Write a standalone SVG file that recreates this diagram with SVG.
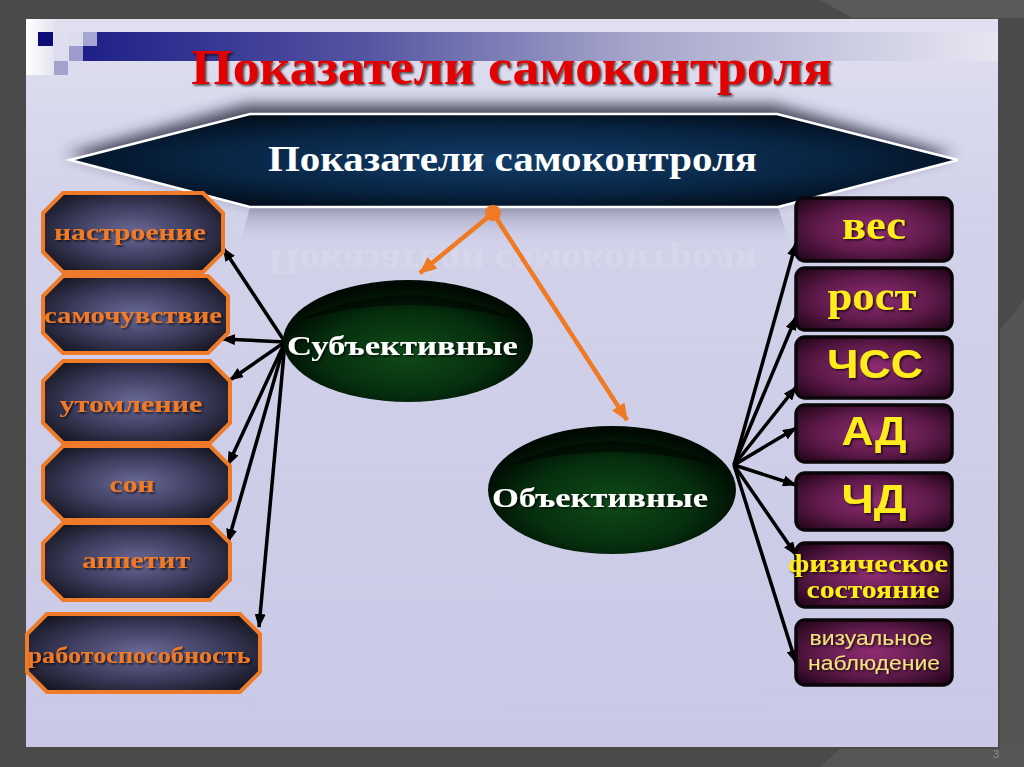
<svg xmlns="http://www.w3.org/2000/svg" width="1024" height="767" viewBox="0 0 1024 767">
<defs>
<style>
.oct{stroke:#ee7a2a;stroke-width:4;fill:url(#octG)}
.octT{font-family:"Liberation Serif","DejaVu Serif",serif;font-weight:bold;font-size:23px;fill:#f07a26;text-anchor:middle;filter:url(#tsh)}
.box{stroke:#0a0508;stroke-width:3.5;fill:url(#boxG)}
.serifY{font-family:"Liberation Serif","DejaVu Serif",serif;font-weight:bold;fill:#ffec1a;text-anchor:middle;filter:url(#tsh)}
.sansY{font-family:"Liberation Sans","DejaVu Sans",sans-serif;font-weight:bold;fill:#ffec1a;text-anchor:middle;filter:url(#tsh)}
.ell{fill:url(#ellG)}
.ellT{font-family:"Liberation Serif","DejaVu Serif",serif;font-weight:bold;font-size:28px;fill:#ffffff;filter:url(#tsh)}
.blk{stroke:#000;stroke-width:3.5;fill:none;marker-end:url(#ah)}
.org{stroke:#f07a24;stroke-width:4.5;fill:none;marker-end:url(#aho)}
</style>
<linearGradient id="slideG" x1="0" y1="0" x2="0" y2="1">
<stop offset="0" stop-color="#e0e0f0"/>
<stop offset="0.25" stop-color="#d2d2ea"/>
<stop offset="1" stop-color="#c9c9e6"/>
</linearGradient>
<linearGradient id="barG" x1="0" y1="0" x2="1" y2="0">
<stop offset="0" stop-color="#1f2088"/>
<stop offset="0.3" stop-color="#5253a0"/>
<stop offset="0.6" stop-color="#a5a5ca"/>
<stop offset="1" stop-color="#e6e6f2"/>
</linearGradient>
<linearGradient id="stripG" x1="0" y1="0" x2="1" y2="0">
<stop offset="0" stop-color="#ffffff"/>
<stop offset="1" stop-color="#e4e4f2"/>
</linearGradient>
<radialGradient id="banG" cx="0.5" cy="0.5" r="0.6">
<stop offset="0" stop-color="#123d68"/>
<stop offset="0.6" stop-color="#082442"/>
<stop offset="1" stop-color="#010914"/>
</radialGradient>
<linearGradient id="reflG" x1="0" y1="0" x2="0" y2="1">
<stop offset="0" stop-color="#6c6c88" stop-opacity="0.75"/>
<stop offset="1" stop-color="#c9c9e6" stop-opacity="0"/>
</linearGradient>
<radialGradient id="octG" cx="0.5" cy="0.5" r="0.62">
<stop offset="0" stop-color="#6a6a98"/>
<stop offset="0.55" stop-color="#3c3c5e"/>
<stop offset="1" stop-color="#15151f"/>
</radialGradient>
<radialGradient id="boxG" cx="0.5" cy="0.5" r="0.62">
<stop offset="0" stop-color="#8e2c72"/>
<stop offset="0.6" stop-color="#5e1a4a"/>
<stop offset="1" stop-color="#2c0820"/>
</radialGradient>
<radialGradient id="ellG" cx="0.5" cy="0.6" r="0.55">
<stop offset="0" stop-color="#0f4a1a"/>
<stop offset="0.6" stop-color="#06300e"/>
<stop offset="1" stop-color="#000a02"/>
</radialGradient>
<filter id="blur" x="-20%" y="-50%" width="140%" height="200%">
<feGaussianBlur stdDeviation="7"/>
</filter>
<filter id="tsh" x="-10%" y="-30%" width="120%" height="160%">
<feDropShadow dx="1.5" dy="1.5" stdDeviation="0.8" flood-color="#000" flood-opacity="0.75"/>
</filter>
<marker id="ah" viewBox="0 0 14 11" refX="13" refY="5.5" markerWidth="14" markerHeight="11" markerUnits="userSpaceOnUse" orient="auto">
<path d="M0,0 L14,5.5 L0,11 z" fill="#000"/>
</marker>
<marker id="aho" viewBox="0 0 16 14" refX="15" refY="7" markerWidth="18" markerHeight="15" markerUnits="userSpaceOnUse" orient="auto">
<path d="M0,0 L16,7 L0,14 z" fill="#f07a24"/>
</marker>
</defs>

<!-- frame -->
<rect x="0" y="0" width="1024" height="767" fill="#4a4a4a"/>
<polygon points="820,0 1024,0 1024,18 852,18" fill="#5a5a5a"/>
<polygon points="1000,330 1024,300 1024,767 1000,767" fill="#555555"/>
<polygon points="840,749 1024,749 1024,767 820,767" fill="#565656"/>

<!-- slide -->
<rect x="26" y="19" width="972" height="728" fill="url(#slideG)"/>
<rect x="26" y="19" width="28" height="56" fill="url(#stripG)"/>
<rect x="83" y="32" width="915" height="29" fill="url(#barG)"/>
<rect x="38" y="32" width="15" height="14" fill="#0c0c78"/>
<rect x="69" y="32" width="14" height="14" fill="#dcdcee"/>
<rect x="83" y="32" width="14" height="14" fill="#a6a6d2"/>
<rect x="69" y="46" width="14" height="15" fill="#9c9cce"/>
<rect x="54" y="61" width="14" height="14" fill="#a2a2cc"/>

<g id="title">
<text x="191" y="84" textLength="641" lengthAdjust="spacingAndGlyphs" font-family="Liberation Serif, DejaVu Serif, serif" font-weight="bold" font-size="50" fill="#e20000" filter="url(#tsh)">Показатели  самоконтроля</text>
</g>

<g id="banner">
<polygon points="70,160 250,110 778,110 958,160 778,207 250,207" fill="#2a2a3c" opacity="0.8" filter="url(#blur)" transform="translate(-4,-6)"/>
<polygon points="250,207 778,207 790,245 240,245" fill="url(#reflG)" opacity="0.7"/>
<polygon points="70,160 250,114 777,114 958,160 778,207 250,207" fill="url(#banG)" stroke="#ffffff" stroke-width="2.5"/>
<text x="268" y="171" textLength="489" lengthAdjust="spacingAndGlyphs" font-family="Liberation Serif, DejaVu Serif, serif" font-weight="bold" font-size="35" fill="#ffffff">Показатели самоконтроля</text>
<text x="268" y="171" textLength="489" lengthAdjust="spacingAndGlyphs" font-family="Liberation Serif, DejaVu Serif, serif" font-weight="bold" font-size="35" fill="#ececf6" opacity="0.22" transform="translate(0,421) scale(1,-1)">Показатели самоконтроля</text>
</g>

<!-- connectors -->
<g id="connectors">
<line class="org" x1="493" y1="213" x2="420" y2="273"/>
<line class="org" x1="493" y1="213" x2="627" y2="420"/>
<circle cx="493" cy="213" r="8" fill="#f07a24"/>
<line class="blk" x1="285" y1="342" x2="223" y2="248"/>
<line class="blk" x1="285" y1="342" x2="222" y2="339"/>
<line class="blk" x1="285" y1="342" x2="230" y2="380"/>
<line class="blk" x1="285" y1="342" x2="228" y2="465"/>
<line class="blk" x1="285" y1="342" x2="228" y2="542"/>
<line class="blk" x1="285" y1="342" x2="259" y2="627"/>
<line class="blk" x1="734" y1="465" x2="796" y2="243"/>
<line class="blk" x1="734" y1="465" x2="796" y2="317"/>
<line class="blk" x1="734" y1="465" x2="796" y2="387"/>
<line class="blk" x1="734" y1="465" x2="796" y2="428"/>
<line class="blk" x1="734" y1="465" x2="796" y2="485"/>
<line class="blk" x1="734" y1="465" x2="796" y2="555"/>
<line class="blk" x1="734" y1="465" x2="796" y2="663"/>
</g>

<g id="subjective">
<ellipse class="ell" cx="408" cy="341" rx="125" ry="61"/>
<path d="M300,320 Q408,270 518,320 Q408,290 300,320 z" fill="#000" opacity="0.5"/>
<text class="ellT" x="287" y="355" textLength="231" lengthAdjust="spacingAndGlyphs">Субъективные</text>
</g>

<g id="objective">
<ellipse class="ell" cx="612" cy="490" rx="124" ry="64"/>
<path d="M505,467 Q612,415 720,467 Q612,437 505,467 z" fill="#000" opacity="0.5"/>
<text class="ellT" x="492" y="507" textLength="216" lengthAdjust="spacingAndGlyphs">Объективные</text>
</g>

<!-- left octagons -->
<g id="n-nastroenie">
<polygon class="oct" points="63,193 203,193 223,213 223,252 203,272 63,272 43,252 43,213"/>
<text class="octT" x="130" y="240" textLength="152" lengthAdjust="spacingAndGlyphs">настроение</text>
</g>
<g id="n-samochuvstvie">
<polygon class="oct" points="63,276 208,276 228,296 228,333 208,353 63,353 43,333 43,296"/>
<text class="octT" x="133" y="323" textLength="178" lengthAdjust="spacingAndGlyphs">самочувствие</text>
</g>
<g id="n-utomlenie">
<polygon class="oct" points="63,361 210,361 230,381 230,423 210,443 63,443 43,423 43,381"/>
<text class="octT" x="131" y="412" textLength="143" lengthAdjust="spacingAndGlyphs">утомление</text>
</g>
<g id="n-son">
<polygon class="oct" points="63,446 210,446 230,466 230,500 210,520 63,520 43,500 43,466"/>
<text class="octT" x="132" y="492" textLength="45" lengthAdjust="spacingAndGlyphs">сон</text>
</g>
<g id="n-appetit">
<polygon class="oct" points="63,523 210,523 230,543 230,580 210,600 63,600 43,580 43,543"/>
<text class="octT" x="136" y="568" textLength="108" lengthAdjust="spacingAndGlyphs">аппетит</text>
</g>
<g id="n-rabotosposobnost">
<polygon class="oct" points="47,614 240,614 260,634 260,672 240,692 47,692 27,672 27,634"/>
<text class="octT" x="139" y="663" textLength="223" lengthAdjust="spacingAndGlyphs">работоспособность</text>
</g>

<!-- right boxes -->
<g id="n-ves">
<rect class="box" x="796" y="198" width="156" height="63" rx="9"/>
<text class="serifY" x="874" y="239" font-size="40" textLength="64" lengthAdjust="spacingAndGlyphs">вес</text>
</g>
<g id="n-rost">
<rect class="box" x="796" y="268" width="156" height="62" rx="9"/>
<text class="serifY" x="872" y="310" font-size="40" textLength="89" lengthAdjust="spacingAndGlyphs">рост</text>
</g>
<g id="n-chss">
<rect class="box" x="796" y="337" width="156" height="61" rx="9"/>
<text class="sansY" x="875" y="378" font-size="41" textLength="96" lengthAdjust="spacingAndGlyphs">ЧСС</text>
</g>
<g id="n-ad">
<rect class="box" x="796" y="405" width="156" height="57" rx="9"/>
<text class="sansY" x="874" y="445" font-size="41" textLength="65" lengthAdjust="spacingAndGlyphs">АД</text>
</g>
<g id="n-chd">
<rect class="box" x="796" y="473" width="156" height="57" rx="9"/>
<text class="sansY" x="874" y="513" font-size="41" textLength="65" lengthAdjust="spacingAndGlyphs">ЧД</text>
</g>
<g id="n-fiz">
<rect class="box" x="796" y="543" width="156" height="64" rx="9"/>
<text class="serifY" x="868" y="572" font-size="25" textLength="160" lengthAdjust="spacingAndGlyphs">физическое</text>
<text class="serifY" x="873" y="598" font-size="25" textLength="133" lengthAdjust="spacingAndGlyphs">состояние</text>
</g>
<g id="n-viz">
<rect class="box" x="796" y="620" width="156" height="65" rx="9"/>
<text class="sansY" x="871" y="645" font-size="20" textLength="123" lengthAdjust="spacingAndGlyphs" style="fill:#f2e27a;font-weight:normal">визуальное</text>
<text class="sansY" x="874" y="670" font-size="20" textLength="132" lengthAdjust="spacingAndGlyphs" style="fill:#f2e27a;font-weight:normal">наблюдение</text>
</g>

<text x="996" y="758" font-family="Liberation Sans, sans-serif" font-size="11" fill="#8a8a8a" text-anchor="middle">3</text>
</svg>
